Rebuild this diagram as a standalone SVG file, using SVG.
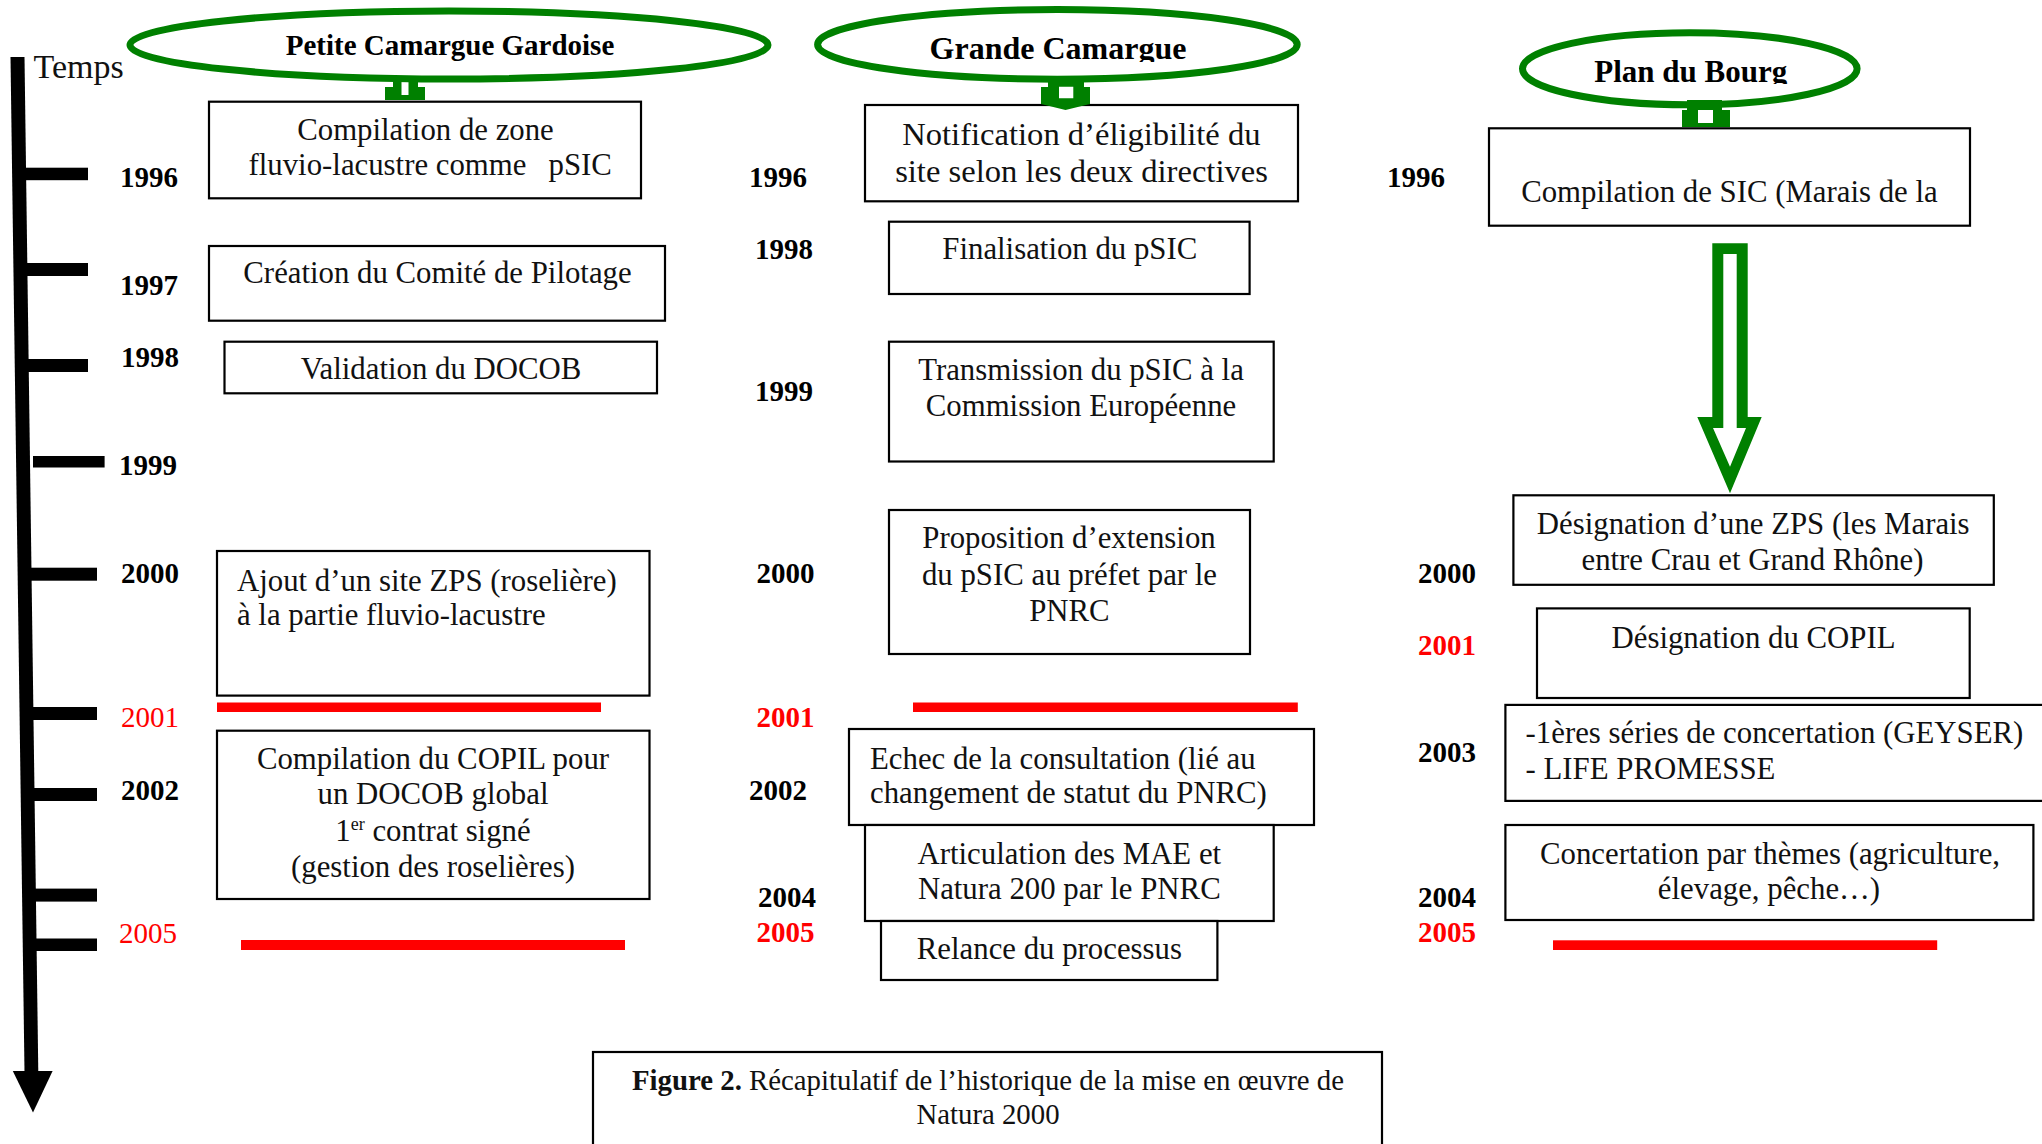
<svg xmlns="http://www.w3.org/2000/svg" width="2042" height="1144" viewBox="0 0 2042 1144">
<defs>
<style>
.box{fill:#fff;stroke:#000;stroke-width:2.2}
.t{font-family:"Liberation Serif","Times New Roman",serif;font-size:30.8px;fill:#111}
.m{text-anchor:middle}
.yr{font-family:"Liberation Serif","Times New Roman",serif;font-size:29px;font-weight:bold;fill:#000}
.yrn{font-family:"Liberation Serif","Times New Roman",serif;font-size:29px;fill:#ff0000}
.red{fill:#ff0000}
.ell{fill:#fff;stroke:#008000;stroke-width:7}
.hd{font-family:"Liberation Serif","Times New Roman",serif;font-weight:bold;fill:#000;text-anchor:middle}
.gr{fill:#008000;fill-rule:evenodd}
.tick{fill:#000}
</style>
<clipPath id="clipGC"><rect x="800" y="0" width="520" height="62"/></clipPath>
<clipPath id="clipPB"><rect x="1500" y="0" width="380" height="84"/></clipPath>
</defs>
<rect width="2042" height="1144" fill="#fff"/>

<g id="timeline">
<polygon class="tick" points="10.5,57 24.5,57 38.3,1072 24.5,1072"/>
<polygon class="tick" points="12.8,1071 52.6,1071 33,1112.5"/>
<rect class="tick" x="18" y="167.7" width="70" height="12.5"/>
<rect class="tick" x="19" y="263" width="69" height="13"/>
<rect class="tick" x="20" y="359" width="68" height="13"/>
<rect class="tick" x="33" y="456" width="71.6" height="11.5"/>
<rect class="tick" x="22" y="567.7" width="75" height="13"/>
<rect class="tick" x="24" y="707" width="73" height="13"/>
<rect class="tick" x="25" y="788" width="72" height="13"/>
<rect class="tick" x="26" y="888.6" width="71" height="13"/>
<rect class="tick" x="27" y="938.5" width="70" height="12.5"/>
<text class="t" x="33.5" y="78.3" style="font-size:34px">Temps</text>
<text class="yr" x="120" y="186.7">1996</text>
<text class="yr" x="120" y="295">1997</text>
<text class="yr" x="121" y="366.7">1998</text>
<text class="yr" x="119" y="475.4">1999</text>
<text class="yr" x="121" y="582.5">2000</text>
<text class="yrn" x="121" y="727">2001</text>
<text class="yr" x="121" y="799.5">2002</text>
<text class="yrn" x="119" y="943">2005</text>
<text class="yr" x="749" y="186.7">1996</text>
<text class="yr" x="755" y="258.5">1998</text>
<text class="yr" x="755" y="401">1999</text>
<text class="yr" x="756.6" y="582.5">2000</text>
<text class="yr" x="756.6" y="727" style="fill:#ff0000">2001</text>
<text class="yr" x="749" y="799.5">2002</text>
<text class="yr" x="758" y="907">2004</text>
<text class="yr" x="756.6" y="942" style="fill:#ff0000">2005</text>
<text class="yr" x="1387" y="186.7">1996</text>
<text class="yr" x="1418" y="582.5">2000</text>
<text class="yr" x="1418" y="654.5" style="fill:#ff0000">2001</text>
<text class="yr" x="1418" y="761.6">2003</text>
<text class="yr" x="1418" y="907">2004</text>
<text class="yr" x="1418" y="942" style="fill:#ff0000">2005</text>
</g>

<g id="head-pcg">
<ellipse class="ell" cx="449" cy="45" rx="319" ry="34"/>
<text class="hd" x="450" y="55" font-size="29">Petite Camargue Gardoise</text>
</g>
<g id="head-gc">
<ellipse class="ell" cx="1057.4" cy="44.4" rx="239.8" ry="34.8"/>
<text class="hd" x="1058" y="59.3" font-size="32" clip-path="url(#clipGC)">Grande Camargue</text>
</g>
<g id="head-pb">
<ellipse class="ell" cx="1689.8" cy="68.8" rx="167.3" ry="36"/>
<text class="hd" x="1690.8" y="81.7" font-size="31" clip-path="url(#clipPB)">Plan du Bourg</text>
</g>

<g id="pcg-1996">
<rect class="box" x="209" y="101.7" width="432" height="96.6"/>
<text class="t m" x="425.5" y="140">Compilation de zone</text>
<text class="t"><tspan x="248.5" y="175">fluvio-lacustre comme</tspan><tspan x="548.5" y="175">pSIC</tspan></text>
</g>
<g id="pcg-1997">
<rect class="box" x="209" y="246" width="456" height="74.7"/>
<text class="t m" x="437.5" y="283">Création du Comité de Pilotage</text>
</g>
<g id="pcg-1998">
<rect class="box" x="224.5" y="341.7" width="432.5" height="51.6"/>
<text class="t m" x="441" y="379">Validation du DOCOB</text>
</g>
<g id="pcg-2000">
<rect class="box" x="217" y="551" width="432.5" height="144.6"/>
<text class="t" x="237" y="590.8">Ajout d’un site ZPS (roselière)</text>
<text class="t" x="237" y="625.4">à la partie fluvio-lacustre</text>
</g>
<g id="pcg-2002">
<rect class="box" x="217" y="730.7" width="432.5" height="168.3"/>
<text class="t m" x="433" y="768.6">Compilation du COPIL pour</text>
<text class="t m" x="433" y="804">un DOCOB global</text>
<text class="t m" x="433" y="841">1<tspan font-size="18" dy="-11">er</tspan><tspan dy="11"> contrat signé</tspan></text>
<text class="t m" x="433" y="877">(gestion des roselières)</text>
</g>

<g id="gc-1996">
<rect class="box" x="865" y="105" width="433" height="96.3"/>
<text class="t m" x="1081.4" y="145" style="font-size:32.6px">Notification d’éligibilité du</text>
<text class="t m" x="1081.5" y="181.7" style="font-size:32.6px">site selon les deux directives</text>
</g>
<g id="gc-1998">
<rect class="box" x="889" y="221.7" width="360.6" height="72.3"/>
<text class="t m" x="1069.8" y="259.3">Finalisation du pSIC</text>
</g>
<g id="gc-1999">
<rect class="box" x="889" y="341.7" width="384.7" height="119.8"/>
<text class="t m" x="1081" y="380">Transmission du pSIC à la</text>
<text class="t m" x="1081" y="416">Commission Européenne</text>
</g>
<g id="gc-2000">
<rect class="box" x="889" y="510" width="361" height="144"/>
<text class="t m" x="1069" y="548.3">Proposition d’extension</text>
<text class="t m" x="1069.5" y="584.8">du pSIC au préfet par le</text>
<text class="t m" x="1069.4" y="620.8">PNRC</text>
</g>
<g id="gc-2002">
<rect class="box" x="849" y="729" width="465" height="96"/>
<text class="t" x="870" y="768.6">Echec de la consultation (lié au</text>
<text class="t" x="870" y="803">changement de statut du PNRC)</text>
</g>
<g id="gc-2004">
<rect class="box" x="865" y="825" width="408.7" height="96"/>
<text class="t m" x="1069.3" y="864">Articulation des MAE et</text>
<text class="t m" x="1069.3" y="899">Natura 200 par le PNRC</text>
</g>
<g id="gc-2005">
<rect class="box" x="881" y="921" width="336.4" height="59"/>
<text class="t m" x="1049.4" y="958.8">Relance du processus</text>
</g>

<g id="pb-1996">
<rect class="box" x="1489" y="128.3" width="481" height="97.4"/>
<text class="t m" x="1729.4" y="201.7">Compilation de SIC (Marais de la</text>
</g>
<g id="pb-2000">
<rect class="box" x="1513.4" y="495.3" width="480.4" height="89.5"/>
<text class="t m" x="1753.2" y="534">Désignation d’une ZPS (les Marais</text>
<text class="t m" x="1752.5" y="570">entre Crau et Grand Rhône)</text>
</g>
<g id="pb-2001">
<rect class="box" x="1537" y="608.4" width="432.7" height="89.6"/>
<text class="t m" x="1753.5" y="647.6">Désignation du COPIL</text>
</g>
<g id="pb-2003">
<rect class="box" x="1505.4" y="704.9" width="545" height="96"/>
<text class="t" x="1525.6" y="743">-1ères séries de concertation (GEYSER)</text>
<text class="t" x="1525.6" y="779">- LIFE PROMESSE</text>
</g>
<g id="pb-2004">
<rect class="box" x="1505.4" y="825" width="528" height="95"/>
<text class="t m" x="1770" y="864">Concertation par thèmes (agriculture,</text>
<text class="t m" x="1769" y="899">élevage, pêche…)</text>
</g>

<g id="separators">
<rect class="red" x="217" y="702.5" width="384" height="9.5"/>
<rect class="red" x="241" y="940" width="384" height="10"/>
<rect class="red" x="913" y="702.5" width="384.8" height="9.5"/>
<rect class="red" x="1553" y="940.3" width="384.2" height="9.7"/>
</g>

<g id="connectors">
<path class="gr" d="M393,78 H418 V87 H425 V100 H385 V87 H393 Z M401.5,81.5 H408.5 V95 H401.5 Z"/>
<path class="gr" d="M1048,76 H1084 V87 H1090 V104 L1065.5,110 L1041,104 V87 H1048 Z M1059,86.7 H1073.3 V98.3 H1059 Z"/>
<path class="gr" d="M1687,100 H1722 V110 H1730 V127 H1682 V110 H1687 Z M1698,110 H1713 V123 H1698 Z"/>
<path class="gr" d="M1712.3,243.3 H1747.7 V417 H1761.7 L1730,493.3 L1697.3,417 H1712.3 Z M1723.3,254 V428 H1713 L1730,466.7 L1746,428 H1736.7 V254 Z"/>
</g>

<g id="caption">
<rect class="box" x="593" y="1052" width="789" height="110"/>
<text class="t m" x="988" y="1090" style="font-size:28.8px"><tspan font-weight="bold">Figure 2.</tspan> Récapitulatif de l’historique de la mise en œuvre de</text>
<text class="t m" x="988" y="1124" style="font-size:28.8px">Natura 2000</text>
</g>
</svg>
